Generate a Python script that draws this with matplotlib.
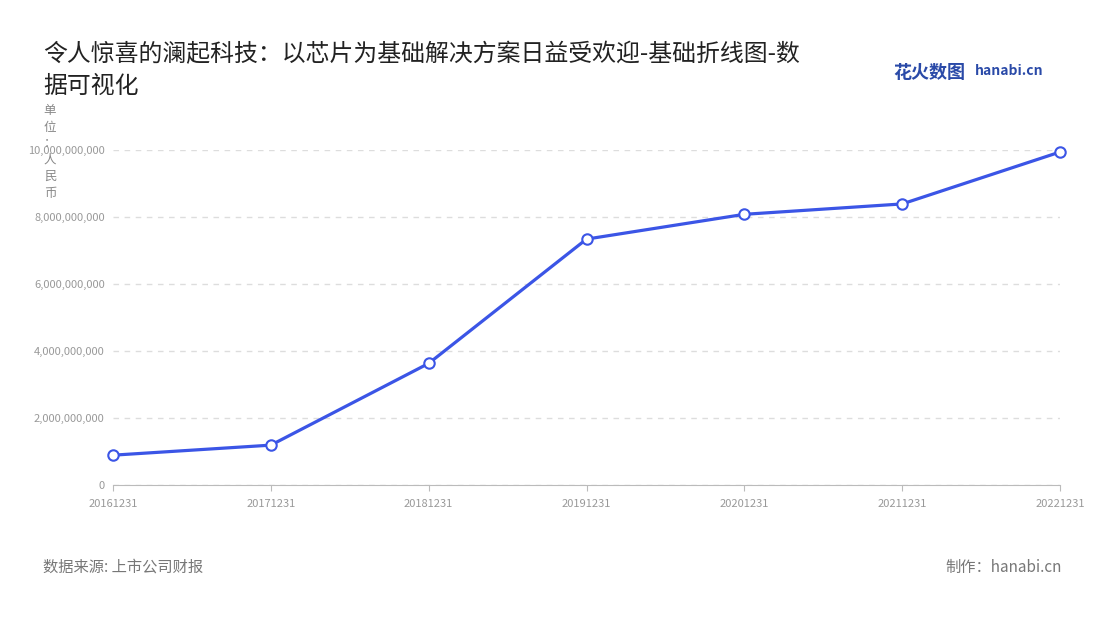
import matplotlib
matplotlib.use("Agg")
import matplotlib.pyplot as plt
from matplotlib.ticker import FuncFormatter

plt.rcParams['font.family'] = ['Noto Sans CJK SC', 'DejaVu Sans']

dates = ["20161231", "20171231", "20181231", "20191231", "20201231", "20211231", "20221231"]
values = [0.89e9, 1.19e9, 3.63e9, 7.34e9, 8.08e9, 8.39e9, 9.94e9]
yticks = [0, 2e9, 4e9, 6e9, 8e9, 10e9]

fig = plt.figure(figsize=(11, 6.2), dpi=100)
ax = fig.add_axes([113/1100, 1-485/620, 947/1100, 335/620])
x = list(range(len(dates)))
ax.plot(x, values, color='#3b55e6', lw=2.3, marker='o', ms=7.5,
        mfc='white', mec='#3b55e6', mew=1.5, zorder=3, clip_on=False)
ax.set_xlim(0, len(dates)-1)
ax.set_ylim(0, 1e10)
ax.set_xticks(x)
ax.set_xticklabels(dates)
ax.set_yticks(yticks)
ax.yaxis.set_major_formatter(FuncFormatter(lambda v, p: f"{int(v):,}"))
ax.tick_params(axis='both', colors='#999999', labelsize=8, length=0, pad=6)
ax.tick_params(axis='x', length=4, color='#bbbbbb')
for s in ['top', 'right', 'left']:
    ax.spines[s].set_visible(False)
ax.spines['bottom'].set_color('#bbbbbb')
ax.grid(axis='y', color='#dddddd', ls=(0, (4, 4)), lw=1)
ax.set_axisbelow(True)

fig.text(43/1100, 1-55/620, "令人惊喜的澜起科技：以芯片为基础解决方案日益受欢迎-基础折线图-数",
         fontsize=17.2, color='#222222', va='center')
fig.text(43/1100, 1-86/620, "据可视化", fontsize=17.2, color='#222222', va='center')
fig.text(50/1100, 1-152/620, "单\n位\n：\n人\n民\n币", fontsize=9, color='#888888',
         va='center', ha='center', linespacing=1.35)
fig.text(893/1100, 1-73/620, "花火数图", fontsize=13, color='#2a4aa8', va='center', fontweight='bold')
fig.text(975/1100, 1-71/620, "hanabi.cn", fontsize=10, color='#2a4aa8', va='center', fontweight='bold')
fig.text(43/1100, 1-567/620, "数据来源: 上市公司财报", fontsize=11, color='#777777', va='center')
fig.text(1062/1100, 1-567/620, "制作：hanabi.cn", fontsize=11, color='#777777', va='center', ha='right')

fig.savefig("out.png", dpi=100)
